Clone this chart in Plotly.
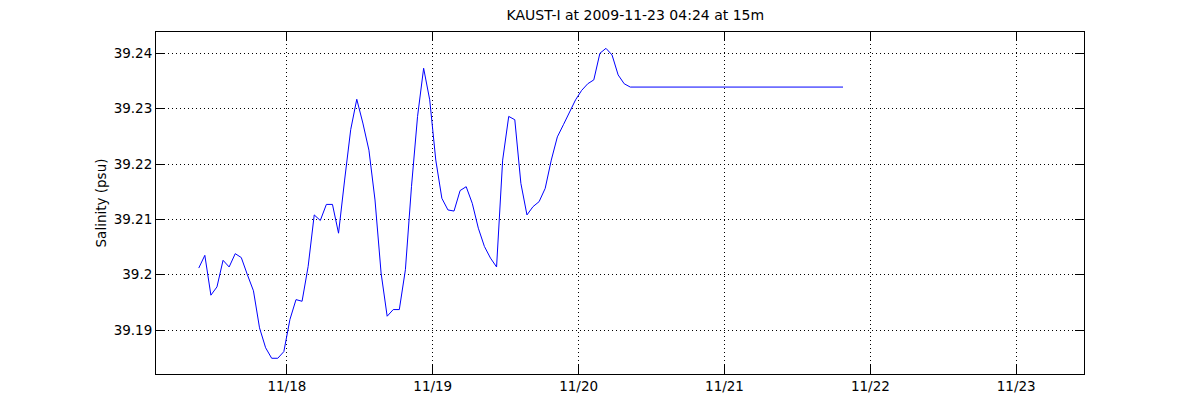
import pandas as pd
import plotly.graph_objects as go

# ---- data ----
sample_start = "2009-11-17 09:30"   # first hourly sample
salinity = [
    39.2012, 39.2035, 39.1963, 39.1978, 39.2026, 39.2014, 39.2038, 39.2031,
    39.2000, 39.1971, 39.1904, 39.1868, 39.1849, 39.1849, 39.1861, 39.1919,
    39.1955, 39.1952, 39.2015, 39.2108, 39.2098, 39.2127, 39.2127, 39.2075,
    39.2171, 39.2262, 39.2317, 39.2274, 39.2225, 39.2135, 39.2003, 39.1925,
    39.1937, 39.1937, 39.2009, 39.2159, 39.2286, 39.2373, 39.2316, 39.2207,
    39.2138, 39.2117, 39.2115, 39.2152, 39.2159, 39.2129, 39.2084, 39.2051,
    39.2030, 39.2014, 39.2207, 39.2286, 39.2280, 39.2165, 39.2108, 39.2123,
    39.2132, 39.2156, 39.2207, 39.2249, 39.2271, 39.2295, 39.2316, 39.2333,
    39.2345, 39.2352, 39.2400, 39.2409, 39.2397, 39.2361, 39.2345, 39.2339,
]
final_time = "2009-11-21 19:30"
final_salinity = 39.2339

x_tick_dates = ["2009-11-18", "2009-11-19", "2009-11-20", "2009-11-21", "2009-11-22", "2009-11-23"]
x_tick_labels = ["11/18", "11/19", "11/20", "11/21", "11/22", "11/23"]
y_tick_vals = [39.19, 39.20, 39.21, 39.22, 39.23, 39.24]
y_tick_labels = ["39.19", "39.2", "39.21", "39.22", "39.23", "39.24"]

title_text = "KAUST-I at 2009-11-23 04:24 at 15m"
y_label = "Salinity (psu)"

times = list(pd.date_range(sample_start, periods=len(salinity), freq="h")) + [pd.Timestamp(final_time)]
values = salinity + [final_salinity]

FONT = "DejaVu Sans"
FS = 13.5

fig = go.Figure()
fig.add_trace(go.Scatter(x=times, y=values, mode="lines",
                         line=dict(color="#0000ff", width=1), showlegend=False))

axis_common = dict(
    showline=True, linecolor="black", linewidth=1, mirror="ticks",
    ticks="inside", ticklen=9, tickcolor="black", tickwidth=1,
    showgrid=True, gridcolor="black", gridwidth=1, griddash="1px,3px",
    zeroline=False, tickfont=dict(family=FONT, size=FS, color="black"),
)

fig.update_layout(
    width=1200, height=420,
    margin=dict(l=156, r=116, t=32, b=46, pad=0),
    paper_bgcolor="white", plot_bgcolor="white",
    font=dict(family=FONT, size=FS, color="black"),
    title=dict(text=title_text, x=0.5165, xref="paper", xanchor="center",
               y=1 - 15 / 420, yref="container", yanchor="middle",
               font=dict(family=FONT, size=14, color="black")),
    xaxis=dict(range=["2009-11-17 02:28", "2009-11-23 11:09"],
               tickvals=x_tick_dates, ticktext=x_tick_labels, **axis_common),
    yaxis=dict(range=[39.18206, 39.24385],
               tickvals=y_tick_vals, ticktext=y_tick_labels,
               title=dict(text=y_label, standoff=3,
                          font=dict(family=FONT, size=FS, color="black")),
               **axis_common),
)

fig.write_html("out.html", config={"displayModeBar": False},
               post_script="document.body.style.margin='0px';")
